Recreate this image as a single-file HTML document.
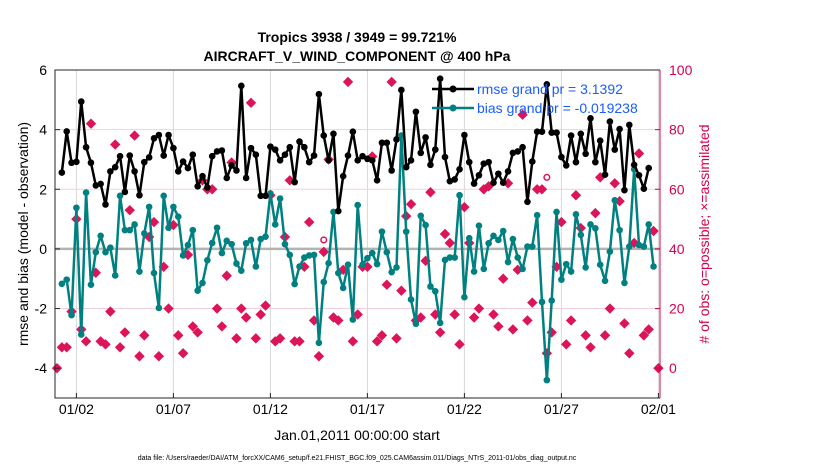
<!DOCTYPE html>
<html><head><meta charset="utf-8"><style>
body{margin:0;background:#fff;}
svg{display:block;font-family:"Liberation Sans",sans-serif;}
</style></head><body>
<svg id="chart" width="830" height="470" viewBox="0 0 830 470" xmlns="http://www.w3.org/2000/svg">
<rect width="830" height="470" fill="#fff"/>
<text x="357" y="42" text-anchor="middle" font-size="14" font-weight="bold">Tropics 3938 / 3949 = 99.721%</text>
<text x="357" y="61" text-anchor="middle" font-size="14" font-weight="bold">AIRCRAFT_V_WIND_COMPONENT @ 400 hPa</text>
<g id="grid"></g>
<g id="marks"></g>
<g id="axes"></g>
<text x="357" y="440" text-anchor="middle" font-size="14">Jan.01,2011 00:00:00 start</text>
<text transform="translate(28,234) rotate(-90)" text-anchor="middle" font-size="14">rmse and bias (model - observation)</text>
<text transform="translate(709,234) rotate(-90)" text-anchor="middle" font-size="14" fill="#d6004e">&#35; of obs: o=possible; &#215;=assimilated</text>
<text x="357" y="460" text-anchor="middle" font-size="7">data file: /Users/raeder/DAI/ATM_forcXX/CAM6_setup/f.e21.FHIST_BGC.f09_025.CAM6assim.011/Diags_NTrS_2011-01/obs_diag_output.nc</text>
<g id="legend">
<line x1="432" y1="89" x2="474" y2="89" stroke="#000" stroke-width="2.5"/>
<circle cx="453" cy="89" r="3.5" fill="#000"/>
<text x="477" y="94" font-size="14" fill="#1a5cff">rmse grand pr = 3.1392</text>
<line x1="432" y1="108" x2="474" y2="108" stroke="#008080" stroke-width="2.5"/>
<circle cx="453" cy="108" r="3.5" fill="#008080"/>
<text x="477" y="113" font-size="14" fill="#1a5cff">bias grand pr = -0.019238</text>
</g>
</svg>
<script>
const xTickLabels = ["01/02","01/07","01/12","01/17","01/22","01/27","02/01"];
const xTickDays = [1,6,11,16,21,26,31];
const leftTicks = [-4,-2,0,2,4,6];
const rightTicks = [0,20,40,60,80,100];
const rmse = [null,2.56,3.94,2.89,2.92,4.94,3.41,2.89,2.13,2.18,1.49,2.6,2.74,3.11,1.91,3.13,2.6,1.8,2.91,3.07,3.71,3.82,3.13,3.82,3.38,2.6,2.93,2.71,3.16,2.1,2.44,2.06,
3.11,3.27,3.3,2.38,2.8,2.63,5.47,2.38,3.38,3.16,1.78,1.78,3.43,3.33,2.97,3.16,3.41,2.24,3.6,3.41,2.91,3.13,5.19,3.8,2.97,3.86,1.27,2.44,3.13,3.93,2.97,3.11,
3.02,2.97,2.3,3.56,3.56,2.63,3.67,5.33,2.74,2.97,4.6,3.22,3.74,2.82,3.33,5.71,3.08,2.27,2.33,2.67,3.82,2.91,2.19,2.47,2.86,2.91,2.22,2.52,2.22,2.6,
3.22,3.27,3.41,1.58,2.93,3.93,3.93,5.52,3.9,3.9,3.08,2.8,3.8,2.91,3.86,3.19,4.38,2.91,3.63,2.49,4.27,3.33,4.02,1.97,4.16,2.82,2.47,2.02,2.71,null];
const bias = [null,-1.17,-1.03,-2.22,1.38,-2.87,1.89,-1.2,-0.11,0.44,-0.11,0.04,-0.89,1.78,0.63,0.63,0.82,-0.76,0.52,1.41,-0.81,-1.98,1.78,0.71,1.41,1.08,-0.22,0.13,0.63,-1.4,-1.14,-0.38,
0.2,0.71,-0.14,0.27,0.16,-0.49,-0.73,0.19,0.3,-0.59,0.33,0.41,1.86,0.82,1.69,0.16,-0.2,-1.18,-0.59,-0.29,-0.22,-0.2,-3.15,-1.11,-0.48,1.24,-0.81,-1.31,-0.53,-2.37,1.47,-0.53,
-0.31,-0.14,-0.51,0.58,-0.11,-0.78,-0.62,3.8,0.58,-1.7,-2.51,1.11,0.8,-1.26,-1.42,-2.48,-0.37,-0.29,-0.29,1.8,-1.62,0.36,-0.76,0.78,-0.67,0.19,0.44,0.3,0.6,-0.44,
0.33,-0.29,-0.67,0.08,0.08,1.13,-1.78,-4.4,-1.73,1.24,-1.03,-0.51,-0.76,1.16,0.47,-0.62,0.82,0.69,-0.53,-1.07,-0.09,1.63,0.63,-1.14,0.08,2.67,0.13,0.08,0.82,-0.59,null];
const nobs = [0,7,7,19,50,13,9,82,32,9,8,19,75,7,12,53,78,4,11,44,49,4,34,20,48,11,5,38,14,12,63,60,
60,20,14,31,69,10,20,17,89,10,18,21,58,9,10,44,63,9,9,34,49,16,4,39,70,17,16,33,96,9,18,34,
34,71,9,11,28,96,10,26,51,55,16,17,36,59,18,12,45,42,18,8,54,42,17,20,60,61,18,14,30,62,
13,33,85,16,22,60,60,5,12,34,49,8,16,58,47,11,7,52,64,11,20,62,56,15,5,42,72,11,13,46,0];
const nobsPossibleExtra = [[55,42],[101,63]];

const NS="http://www.w3.org/2000/svg";
const L=55,R=660,T=70,B=398;
const xOf = i => 57 + i*4.85;
const xDay = d => 57 + d*19.4;
const yL = v => T + (6 - v)/11*(B-T);
const yR = n => T + (100 - n)/110*(B-T);
function mk(tag, attrs, parent){const e=document.createElementNS(NS,tag);for(const k in attrs)e.setAttribute(k,attrs[k]);parent.appendChild(e);return e;}
const grid=document.getElementById('grid'), marks=document.getElementById('marks'), axes=document.getElementById('axes');

xTickDays.forEach((d,k)=>{
  const g=mk('line',{x1:xDay(d),x2:xDay(d),y1:T,y2:B,stroke:'#d9d9d9','stroke-width':1},grid);
  
  
  const t=mk('text',{x:xDay(d),y:B+16,'text-anchor':'middle','font-size':14},axes);
  t.textContent=xTickLabels[k];
  
  
  mk('line',{x1:xDay(d),x2:xDay(d),y1:B,y2:B-5,stroke:'#262626'},axes);
});
rightTicks.forEach(n=>{
  if(n>0&&n<100){const g=mk('line',{x1:L,x2:R,y1:yR(n),y2:yR(n),stroke:'#f3cfdc','stroke-width':1},grid);
  
  }
  const t=mk('text',{x:R+9,y:yR(n)+5,'font-size':14,fill:'#d6004e'},axes);
  t.textContent=n;
  
  
  mk('line',{x1:R,x2:R-5,y1:yR(n),y2:yR(n),stroke:'#d6004e'},axes);
});
const z=mk('line',{x1:L,x2:R,y1:yL(0),y2:yL(0),stroke:'#b3b3b3','stroke-width':2.5},grid);


leftTicks.forEach(v=>{
  const t=mk('text',{x:L-8,y:yL(v)+5,'text-anchor':'end','font-size':14},axes);
  t.textContent=v;
  
  
  mk('line',{x1:L,x2:L+5,y1:yL(v),y2:yL(v),stroke:'#262626'},axes);
});
const box=mk('path',{d:`M${R},${T}H${L}V${B}H${R}`,fill:'none',stroke:'#262626','stroke-width':1},axes);


const ra=mk('line',{x1:R,x2:R,y1:T,y2:B,stroke:'#d6004e','stroke-width':1},axes);



nobs.forEach((n,i)=>{
  const x=xOf(i),y=yR(n);
  const p=mk('path',{d:`M${x-4.5},${y}L${x},${y-4.5}L${x+4.5},${y}L${x},${y+4.5}Z`,fill:'#dc145a',stroke:'#dc145a','stroke-width':1},marks);
  
  
});
nobsPossibleExtra.forEach(([i,n])=>{
  const c=mk('circle',{cx:xOf(i),cy:yR(n)-3,r:2.8,fill:'none',stroke:'#dc145a','stroke-width':1.5},marks);
  
  
});
function series(arr,color,name){
  let d='';let pen=false;
  arr.forEach((v,i)=>{if(v===null){pen=false;return;}d+=(pen?'L':'M')+xOf(i)+','+yL(v);pen=true;});
  const l=mk('path',{d,fill:'none',stroke:color,'stroke-width':2.5,'stroke-linejoin':'round'},marks);
  
  
  arr.forEach((v,i)=>{if(v===null)return;
    const c=mk('circle',{cx:xOf(i),cy:yL(v),r:3.3,fill:color},marks);
    
    
  });
}
series(bias,'#008080','bias');
series(rmse,'#000000','rmse');
</script>
</body></html>
